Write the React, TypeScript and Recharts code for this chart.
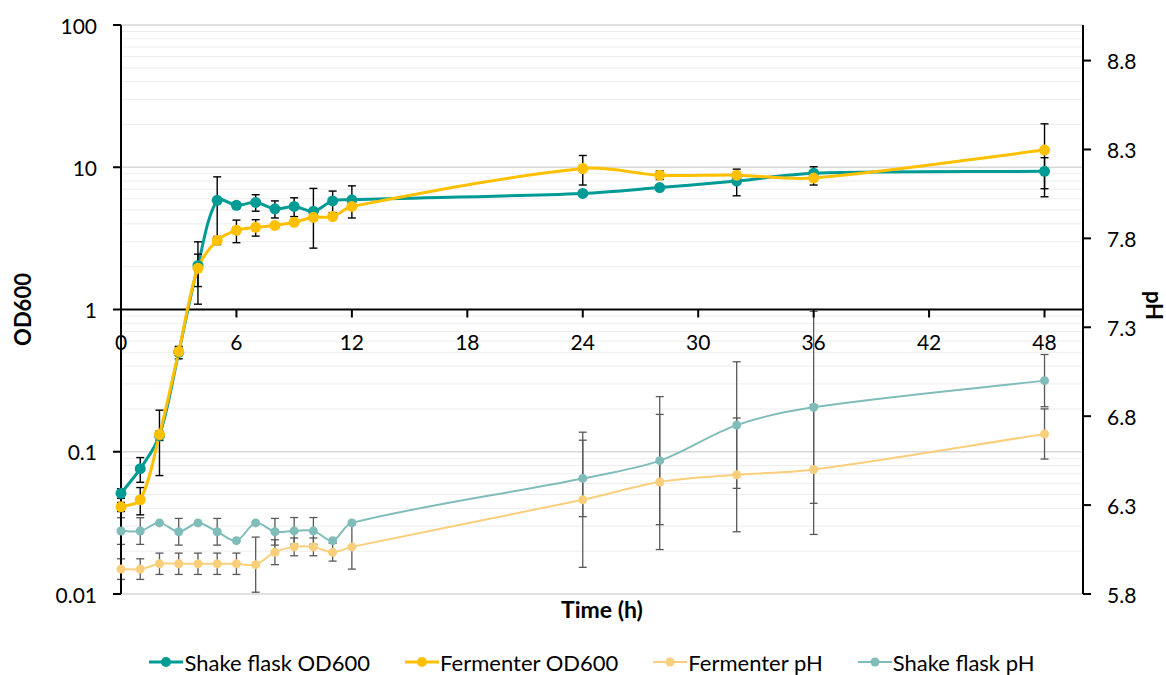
import React from "react";
import {
    LineChart,
    Line,
    XAxis,
    YAxis,
    CartesianGrid,
    ReferenceLine,
    ErrorBar,
    Legend,
} from "recharts";

// sampling times (h)
const hours = [0, 1, 2, 3, 4, 5, 6, 7, 8, 9, 10, 11, 12, 24, 28, 32, 36, 48];

// OD600 (left, log axis)
const shakeOd = [0.051, 0.076, 0.13, 0.5, 2.04, 5.86, 5.4, 5.66, 5.1, 5.3, 4.9, 5.8, 5.9, 6.55, 7.2, 8.0, 9.08, 9.37];
const shakeOdErr = [0.004, 0.015, 0.01, 0.05, 0.95, 2.7, 0.25, 0.75, 0.7, 0.8, 2.2, 1.0, 1.5, 0.1, 0.3, 1.7, 1.0, 2.3];
const fermOd = [0.041, 0.046, 0.132, 0.506, 1.95, 3.06, 3.6, 3.78, 3.9, 4.1, 4.45, 4.5, 5.3, 9.8, 8.8, 8.8, 8.4, 13.2];
const fermOdErr = [0.003, 0.01, 0.064, 0.03, 0.5, 0.2, 0.65, 0.5, 0.1, 0.1, 0.2, 0.1, 0.2, 2.3, 0.6, 0.4, 0.9, 7.0];

// pH (right axis)
const fermPh = [5.94, 5.94, 5.97, 5.97, 5.97, 5.97, 5.97, 5.965, 6.035, 6.065, 6.065, 6.035, 6.065, 6.33, 6.43, 6.47, 6.5, 6.7];
const fermPhErr = [0.058, 0.058, 0.06, 0.06, 0.06, 0.06, 0.06, 0.155, 0.07, 0.05, 0.05, 0.05, 0.125, 0.38, 0.38, 0.32, 0.365, 0.141];
const shakePh = [6.154, 6.154, 6.2, 6.15, 6.2, 6.15, 6.1, 6.2, 6.15, 6.155, 6.155, 6.1, 6.2, 6.45, 6.55, 6.75, 6.85, 7.0];
const shakePhErr = [0.075, 0.075, 0, 0.075, 0, 0.075, 0, 0, 0.075, 0.075, 0.075, 0, 0, 0.215, 0.36, 0.356, 0.54, 0.147];

const seriesNames = ["Shake flask OD600", "Fermenter OD600", "Fermenter pH", "Shake flask pH"];
const seriesColors = ["#009B95", "#FFC000", "#F9CF7C", "#80BDBA"];

const timeTicks = [0, 6, 12, 18, 24, 30, 36, 42, 48];
const odTicks = [
    0.01, 0.02, 0.03, 0.04, 0.05, 0.06, 0.07, 0.08, 0.09,
    0.1, 0.2, 0.3, 0.4, 0.5, 0.6, 0.7, 0.8, 0.9,
    1, 2, 3, 4, 5, 6, 7, 8, 9,
    10, 20, 30, 40, 50, 60, 70, 80, 90, 100,
];
const odMajor = [0.01, 0.1, 1, 10, 100];
const phTicks = [5.8, 6.3, 6.8, 7.3, 7.8, 8.3, 8.8];

const data = hours.map((t, i) => ({
    t,
    sfOd: shakeOd[i],
    sfOdE: shakeOdErr[i],
    fOd: fermOd[i],
    fOdE: fermOdErr[i],
    fPh: fermPh[i],
    fPhE: fermPhErr[i],
    sfPh: shakePh[i],
    sfPhE: shakePhErr[i],
}));

// layout
const W = 1166;
const H = 675;
const TOP = 25;
const LEFT_W = 121;
const RIGHT_W = 83;
const XAXIS_H = 55;
const LEGEND_H = 26;
const PLOT_H = H - TOP - XAXIS_H - LEGEND_H;
const FONT = "Lato, 'Open Sans', sans-serif";

// Excel-like smoothed line: bezier handles along the neighbour chord,
// sized by the length of the adjacent segments (no loops on uneven spacing)
const excelSmooth: any = (context: any) => {
    let pts: number[][] = [];
    const dist = (a: number[], b: number[]) => Math.hypot(b[0] - a[0], b[1] - a[1]);
    return {
        areaStart() {},
        areaEnd() {},
        lineStart() {
            pts = [];
        },
        point(x: number, y: number) {
            pts.push([+x, +y]);
        },
        lineEnd() {
            const n = pts.length;
            if (!n) return;
            context.moveTo(pts[0][0], pts[0][1]);
            // handles [in, out] for each point
            const handles = pts.map((p, i) => {
                const prev = pts[Math.max(0, i - 1)];
                const next = pts[Math.min(n - 1, i + 1)];
                const dIn = dist(prev, p);
                const dOut = dist(p, next);
                const sum = dIn + dOut || 1;
                const tx = next[0] - prev[0];
                const ty = next[1] - prev[1];
                const kIn = dIn / sum / 3;
                const kOut = dOut / sum / 3;
                return [
                    [p[0] - tx * kIn, p[1] - ty * kIn],
                    [p[0] + tx * kOut, p[1] + ty * kOut],
                ];
            });
            for (let i = 0; i < n - 1; i++) {
                const c1 = handles[i][1];
                const c2 = handles[i + 1][0];
                context.bezierCurveTo(c1[0], c1[1], c2[0], c2[1], pts[i + 1][0], pts[i + 1][1]);
            }
        },
    };
};

// x axis sits on OD600 = 1, i.e. the middle of the plot
function TimeTick({ x, y, payload }: any) {
    const y0 = y - PLOT_H / 2;
    return (
        <g>
            <line x1={x} x2={x} y1={y0} y2={y0 + 8} stroke="#000" strokeWidth={2} />
            <text x={x} y={y0 + 32} textAnchor="middle" dominantBaseline="central" fontSize={21} fill="#000" fontFamily={FONT}>
                {payload.value}
            </text>
        </g>
    );
}

function OdTick({ x, y, payload }: any) {
    if (!odMajor.includes(payload.value)) return <g />;
    return (
        <g>
            <line x1={x - 8} x2={x} y1={y} y2={y} stroke="#000" strokeWidth={2} />
            <text x={x - 24} y={y} textAnchor="end" dominantBaseline="central" fontSize={21} fill="#000" fontFamily={FONT}>
                {payload.value}
            </text>
        </g>
    );
}

function PhTick({ x, y, payload }: any) {
    return (
        <g>
            <line x1={x} x2={x + 8} y1={y} y2={y} stroke="#000" strokeWidth={2} />
            <text x={x + 24} y={y} textAnchor="start" dominantBaseline="central" fontSize={21} fill="#000" fontFamily={FONT}>
                {payload.value.toFixed(1)}
            </text>
        </g>
    );
}

function SideTitle({ viewBox, title, dx, dy = 0, rot }: any) {
    const cx = viewBox.x + dx;
    const cy = viewBox.y + viewBox.height / 2 + dy;
    return (
        <text
            x={cx}
            y={cy}
            transform={`rotate(${rot} ${cx} ${cy})`}
            textAnchor="middle"
            dominantBaseline="central"
            fontSize={22}
            fontWeight="bold"
            fill="#000"
            fontFamily={FONT}
        >
            {title}
        </text>
    );
}

function LegendBox() {
    return (
        <div
            style={{
                display: "flex",
                justifyContent: "center",
                alignItems: "center",
                height: LEGEND_H,
                paddingLeft: 18,
                gap: 35,
                fontFamily: FONT,
                fontSize: 22,
                color: "#000",
            }}
        >
            {seriesNames.map((name, i) => (
                <div key={name} style={{ display: "flex", alignItems: "center" }}>
                    <svg width={34} height={12} style={{ marginRight: 1 }}>
                        <line x1={0} x2={34} y1={6} y2={6} stroke={seriesColors[i]} strokeWidth={i < 2 ? 3 : 2} />
                        <circle cx={17} cy={6} r={i < 2 ? 5 : 4.5} fill={seriesColors[i]} />
                    </svg>
                    <span>{name}</span>
                </div>
            ))}
        </div>
    );
}

export default function App() {
    return (
        <div style={{ position: "absolute", left: 0, top: 0, width: W, height: H, background: "#fff" }}>
            <LineChart width={W} height={H} data={data} margin={{ top: TOP, right: 0, bottom: 0, left: 0 }}>
                <CartesianGrid yAxisId="od" vertical={false} stroke="#EDEDED" />
                <XAxis
                    dataKey="t"
                    type="number"
                    domain={[0, 50]}
                    ticks={timeTicks}
                    interval={0}
                    height={XAXIS_H}
                    axisLine={false}
                    tickLine={false}
                    tickSize={0}
                    tickMargin={0}
                    tick={<TimeTick />}
                    label={{ value: "Time (h)", position: "insideTop", offset: 8, fontSize: 23, fontWeight: "bold", fill: "#000", fontFamily: FONT }}
                />
                <YAxis
                    yAxisId="od"
                    scale="log"
                    type="number"
                    domain={[0.01, 100]}
                    allowDataOverflow
                    ticks={odTicks}
                    interval={0}
                    width={LEFT_W}
                    axisLine={{ stroke: "#000", strokeWidth: 2 }}
                    tickLine={false}
                    tickSize={0}
                    tickMargin={0}
                    tick={<OdTick />}
                    label={<SideTitle title="OD600" dx={22} rot={-90} />}
                />
                <YAxis
                    yAxisId="ph"
                    orientation="right"
                    type="number"
                    domain={[5.8, 9.0]}
                    ticks={phTicks}
                    interval={0}
                    width={RIGHT_W}
                    axisLine={{ stroke: "#000", strokeWidth: 2 }}
                    tickLine={false}
                    tickSize={0}
                    tickMargin={0}
                    tick={<PhTick />}
                    label={<SideTitle title="pH" dx={71} dy={-4} rot={90} />}
                />
                {odMajor.filter((v) => v !== 1).map((v) => (
                    <ReferenceLine key={v} yAxisId="od" y={v} stroke="#D9D9D9" strokeWidth={1.5} />
                ))}
                <ReferenceLine yAxisId="od" y={1} stroke="#000" strokeWidth={2} />

                <Line
                    yAxisId="ph"
                    type={excelSmooth}
                    dataKey="fPh"
                    name={seriesNames[2]}
                    stroke={seriesColors[2]}
                    strokeWidth={2}
                    dot={{ r: 4.5, fill: seriesColors[2], stroke: seriesColors[2], strokeWidth: 0 }}
                    isAnimationActive={false}
                >
                    <ErrorBar dataKey="fPhE" width={4} stroke="#595959" strokeWidth={1.3} direction="y" />
                </Line>
                <Line
                    yAxisId="ph"
                    type={excelSmooth}
                    dataKey="sfPh"
                    name={seriesNames[3]}
                    stroke={seriesColors[3]}
                    strokeWidth={2}
                    dot={{ r: 4.5, fill: seriesColors[3], stroke: seriesColors[3], strokeWidth: 0 }}
                    isAnimationActive={false}
                >
                    <ErrorBar dataKey="sfPhE" width={4} stroke="#595959" strokeWidth={1.3} direction="y" />
                </Line>
                <Line
                    yAxisId="od"
                    type={excelSmooth}
                    dataKey="sfOd"
                    name={seriesNames[0]}
                    stroke={seriesColors[0]}
                    strokeWidth={3}
                    dot={{ r: 5.5, fill: seriesColors[0], stroke: seriesColors[0], strokeWidth: 0 }}
                    isAnimationActive={false}
                >
                    <ErrorBar dataKey="sfOdE" width={4} stroke="#000" strokeWidth={1.4} direction="y" />
                </Line>
                <Line
                    yAxisId="od"
                    type={excelSmooth}
                    dataKey="fOd"
                    name={seriesNames[1]}
                    stroke={seriesColors[1]}
                    strokeWidth={3}
                    dot={{ r: 5.5, fill: seriesColors[1], stroke: seriesColors[1], strokeWidth: 0 }}
                    isAnimationActive={false}
                >
                    <ErrorBar dataKey="fOdE" width={4} stroke="#000" strokeWidth={1.4} direction="y" />
                </Line>
                <Legend verticalAlign="bottom" content={() => <LegendBox />} wrapperStyle={{ height: LEGEND_H }} />
            </LineChart>
        </div>
    );
}
